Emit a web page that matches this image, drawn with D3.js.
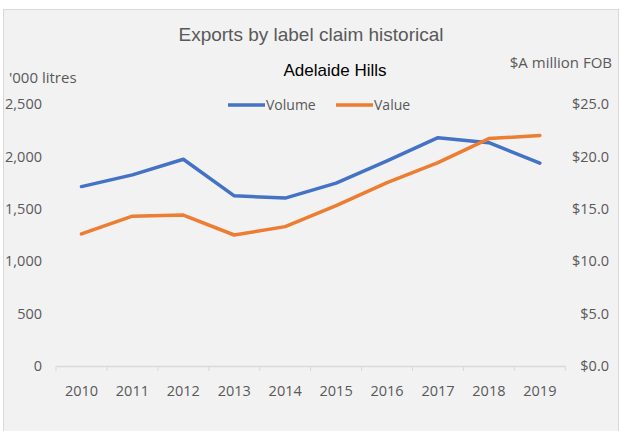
<!DOCTYPE html>
<html>
<head>
<meta charset="utf-8">
<script src="https://cdn.jsdelivr.net/npm/d3@7"></script>
<style>
  body { margin: 0; background: #ffffff; }
</style>
</head>
<body>
<div id="chart"></div>
<script>
/**
 * Data
 */
const years = ["2010", "2011", "2012", "2013", "2014", "2015", "2016", "2017", "2018", "2019"];
const volume = [1712, 1824, 1973, 1624, 1602, 1745, 1957, 2179, 2131, 1935];
const value = [12.6, 14.3, 14.4, 12.5, 13.3, 15.3, 17.5, 19.4, 21.7, 22.0];
const volumeTicks = [0, 500, 1000, 1500, 2000, 2500];
const valueTicks = [0, 5, 10, 15, 20, 25];

/**
 * Basic Settings
 */
const canvasWidth = 620;
const canvasHeight = 431;
const plotLeft = 56;
const plotRight = 565.3;
const plotTop = 104;
const plotBottom = 366;

const blue = "#4472c4";
const orange = "#ed7d31";
const grey = "#595959";
const axisFont = "'Open Sans', 'Noto Sans', sans-serif";
const titleFont = "'Liberation Sans', Arial, sans-serif";

const svg = d3.select("#chart")
  .append("svg")
  .attr("width", canvasWidth)
  .attr("height", canvasHeight);

svg.append("rect")
  .attr("x", 3.5)
  .attr("y", 9.5)
  .attr("width", 615)
  .attr("height", 430)
  .attr("fill", "#f2f2f2")
  .attr("stroke", "#d9d9d9");

/**
 * Scale
 */
const xScale = d3.scaleBand()
  .domain(years)
  .range([plotLeft, plotRight]);

const yLeft = d3.scaleLinear()
  .domain([0, 2500])
  .range([plotBottom, plotTop]);

const yRight = d3.scaleLinear()
  .domain([0, 25])
  .range([plotBottom, plotTop]);

/**
 * Axis
 */
const xAxis = svg.append("g")
  .attr("transform", `translate(0, ${plotBottom})`)
  .call(d3.axisBottom(xScale).tickSize(0).tickPadding(20));
xAxis.select(".domain").attr("stroke", "#d9d9d9").attr("stroke-width", 1.5);
xAxis.selectAll("text")
  .attr("fill", grey)
  .style("font-family", axisFont)
  .style("font-size", "14.5px");

// tick marks sit on the band edges, like the spreadsheet chart
const edges = years.map(d => xScale(d)).concat([plotRight]);
svg.selectAll(".edge-tick")
  .data(edges)
  .enter()
  .append("line")
  .attr("class", "edge-tick")
  .attr("x1", d => d)
  .attr("x2", d => d)
  .attr("y1", plotBottom)
  .attr("y2", plotBottom + 5)
  .attr("stroke", "#d9d9d9")
  .attr("stroke-width", 1);

const leftAxis = svg.append("g")
  .attr("transform", "translate(42, 0)")
  .call(d3.axisLeft(yLeft).tickValues(volumeTicks).tickSize(0).tickPadding(0)
    .tickFormat(d3.format(",")));
leftAxis.select(".domain").remove();
leftAxis.selectAll("text")
  .attr("fill", grey)
  .style("font-family", axisFont)
  .style("font-size", "14.5px");

const rightAxis = svg.append("g")
  .attr("transform", "translate(609, 0)")
  .call(d3.axisLeft(yRight).tickValues(valueTicks).tickSize(0).tickPadding(0)
    .tickFormat(d => "$" + d3.format(".1f")(d)));
rightAxis.select(".domain").remove();
rightAxis.selectAll("text")
  .attr("fill", grey)
  .style("font-family", axisFont)
  .style("font-size", "14.5px");

/**
 * Lines
 */
const volumeLine = d3.line()
  .x((d, i) => xScale(years[i]) + xScale.bandwidth() / 2)
  .y(d => yLeft(d));

const valueLine = d3.line()
  .x((d, i) => xScale(years[i]) + xScale.bandwidth() / 2)
  .y(d => yRight(d));

svg.append("path")
  .datum(volume)
  .attr("d", volumeLine)
  .attr("fill", "none")
  .attr("stroke", blue)
  .attr("stroke-width", 3.5)
  .attr("stroke-linejoin", "round")
  .attr("stroke-linecap", "round");

svg.append("path")
  .datum(value)
  .attr("d", valueLine)
  .attr("fill", "none")
  .attr("stroke", orange)
  .attr("stroke-width", 3.5)
  .attr("stroke-linejoin", "round")
  .attr("stroke-linecap", "round");

/**
 * Titles
 */
svg.append("text")
  .attr("x", 311)
  .attr("y", 41)
  .attr("text-anchor", "middle")
  .attr("fill", grey)
  .style("font-family", titleFont)
  .style("font-size", "19px")
  .text("Exports by label claim historical");

svg.append("text")
  .attr("x", 335)
  .attr("y", 76)
  .attr("text-anchor", "middle")
  .attr("fill", "#000000")
  .style("font-family", titleFont)
  .style("font-size", "17px")
  .text("Adelaide Hills");

svg.append("text")
  .attr("x", 9)
  .attr("y", 83)
  .attr("fill", grey)
  .style("font-family", axisFont)
  .style("font-size", "15px")
  .text("'000 litres");

svg.append("text")
  .attr("x", 612)
  .attr("y", 68)
  .attr("text-anchor", "end")
  .attr("fill", grey)
  .style("font-family", axisFont)
  .style("font-size", "15px")
  .text("$A million FOB");

/**
 * Legend
 */
const legendItems = [
  { name: "Volume", color: blue, x: 228 },
  { name: "Value", color: orange, x: 336 }
];

const legend = svg.selectAll(".legend")
  .data(legendItems)
  .enter()
  .append("g")
  .attr("class", "legend")
  .attr("transform", d => `translate(${d.x}, 105)`);

legend.append("line")
  .attr("x1", 0)
  .attr("x2", 37)
  .attr("stroke", d => d.color)
  .attr("stroke-width", 3.5);

legend.append("text")
  .attr("x", 38)
  .attr("y", 5)
  .attr("fill", grey)
  .style("font-family", axisFont)
  .style("font-size", "14px")
  .text(d => d.name);
</script>
</body>
</html>
